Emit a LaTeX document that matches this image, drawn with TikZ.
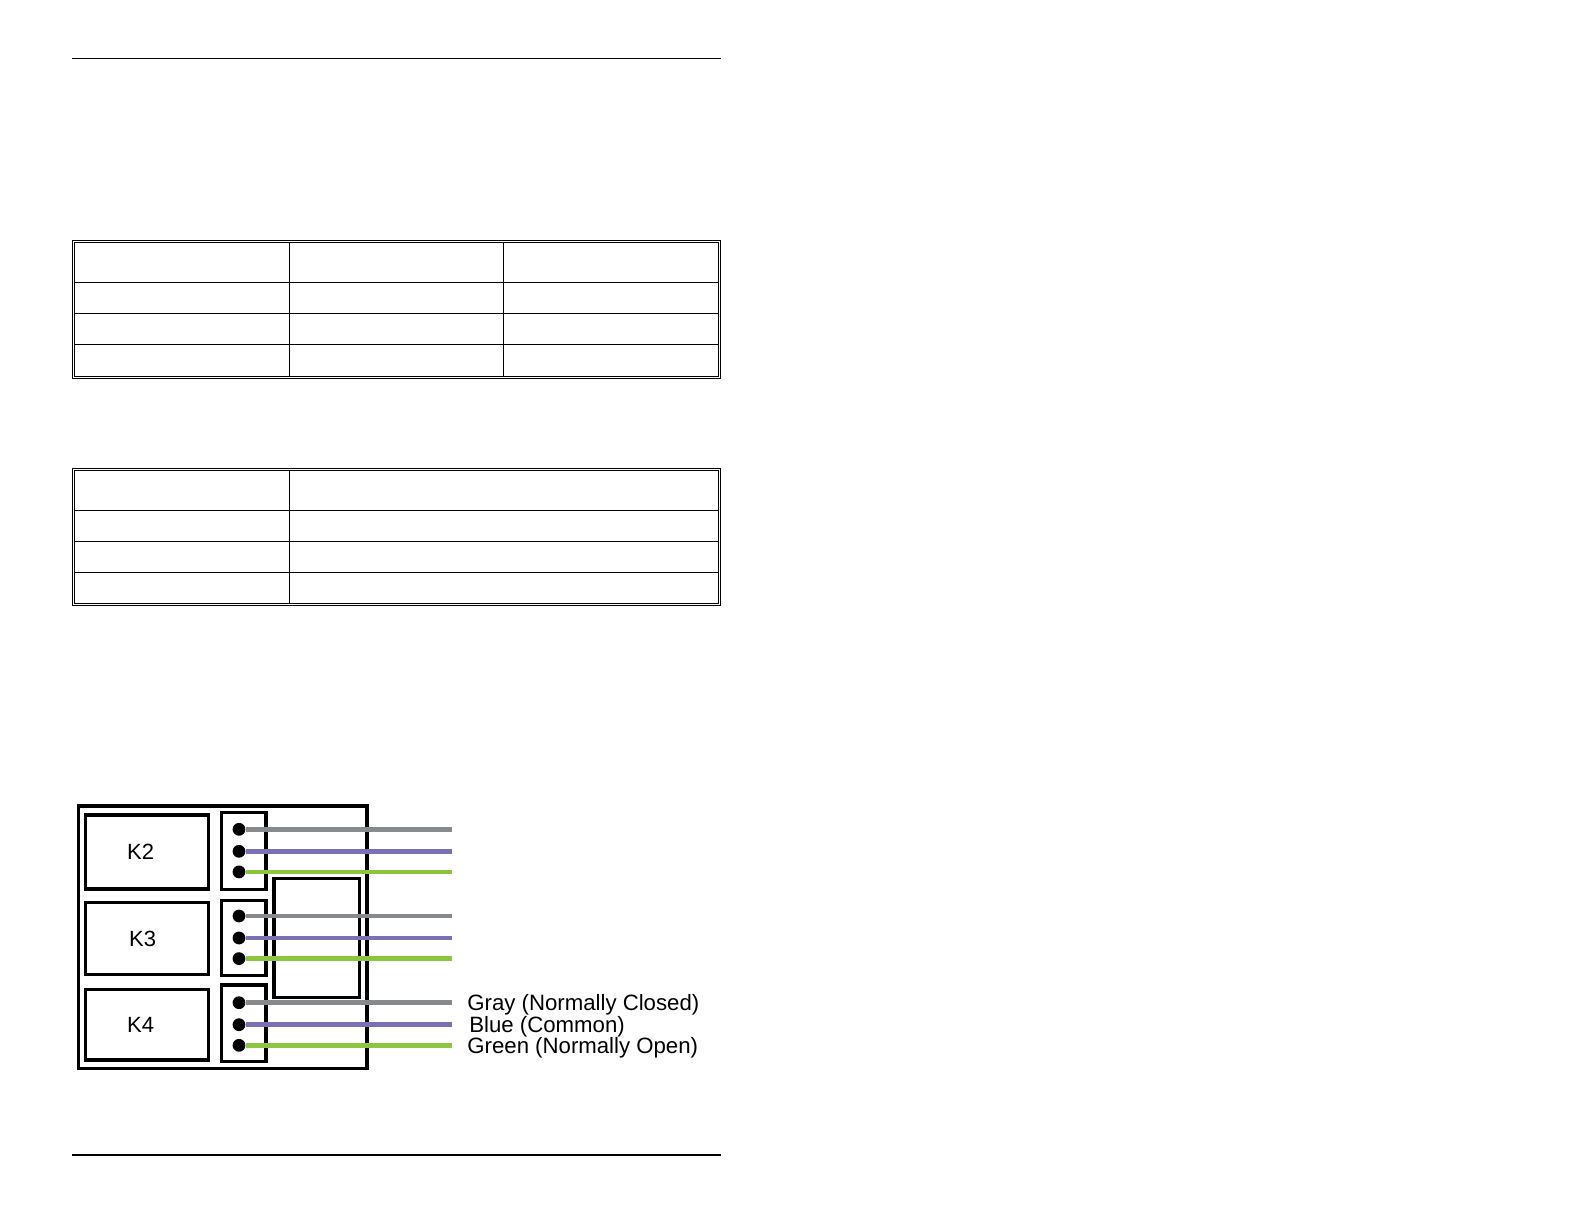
\documentclass[tikz,border=0pt]{standalone}
\usepackage{fontspec}
\setmainfont{Liberation Sans}
\usepackage{xcolor}
\usepackage{tikz}
\usetikzlibrary{positioning}
\definecolor{wiregray}{HTML}{868A8C}
\definecolor{wireblue}{HTML}{7B70B6}
\definecolor{wiregreen}{HTML}{8CC63F}
\tikzset{relay-box/.style={draw,line width=1.7pt,minimum width=61.5pt,inner sep=0pt}}
\tikzset{term-box/.style={draw,line width=1.6pt,minimum width=22.2pt,inner sep=0pt}}
\tikzset{pin-dot/.style={circle,fill=black,inner sep=0pt,minimum size=6.4pt}}
\tikzset{wire/.style={line width=2.4pt}}
\tikzset{table-line/.style={line width=0.6pt}}
\tikzset{rule-line/.style={line width=0.6pt}}
\tikzset{relay-label/.style={font=\fontsize{11}{13}\selectfont}}
\tikzset{legend-text/.style={font=\fontsize{11.1}{13}\selectfont,inner sep=0pt,yshift=-1pt}}

\begin{document}
\begin{tikzpicture}[x=0.5pt,y=-0.5pt]
    \useasboundingbox (0,0) rectangle (1584,1224);

    % page rules
    \draw[rule-line] (72,58.3) -- (720.5,58.3);
    \draw[rule-line] (72,1155) -- (720.5,1155);

    % first table
    \draw[table-line] (72.3,240.3) rectangle (720.7,378.3);
    \draw[table-line] (74.3,242.3) rectangle (718.7,376.3);
    \foreach \y in {282.3,313.3,344.3}
        \draw[table-line] (74.3,\y) -- (718.7,\y);
    \foreach \x in {289.3,503.3}
        \draw[table-line] (\x,242.3) -- (\x,376.3);

    % second table
    \draw[table-line] (72.3,468.3) rectangle (720.7,605.3);
    \draw[table-line] (74.3,470.3) rectangle (718.7,603.3);
    \foreach \y in {510.3,541.3,572.3}
        \draw[table-line] (74.3,\y) -- (718.7,\y);
    \draw[table-line] (289.3,470.3) -- (289.3,603.3);

    % relay board
    \draw[line width=1.8pt] (78.3,806) rectangle (366.7,1068.3);

    \node[relay-box, minimum height=37pt] (k2) at (146.7,852) {};
    \node[relay-box, minimum height=35.8pt] (k3) at (146.7,938.5) {};
    \node[relay-box, minimum height=35.4pt] (k4) at (146.7,1024.7) {};
    \node[relay-label, xshift=-3pt] (k2-label) at (k2.center) {K2};
    \node[relay-label, xshift=-2pt] (k3-label) at (k3.center) {K3};
    \node[relay-label, xshift=-3pt] (k4-label) at (k4.center) {K4};

    \node[term-box, minimum height=38.3pt] (t2) at (243.8,851) {};
    \node[term-box, minimum height=37.2pt] (t3) at (243.8,937.9) {};
    \node[term-box, minimum height=38.3pt] (t4) at (243.8,1023.3) {};
    \node[draw, line width=1.7pt, minimum width=42.7pt, minimum height=59.3pt, inner sep=0pt] (mid) at (316.7,938) {};

    % pins and wires
    \foreach \k/\y in {2/829.3,3/916,4/1002.7} {
        \node[pin-dot] (nc\k) at (239,\y) {};
        \node[pin-dot] (com\k) at (239,\y+22) {};
        \node[pin-dot] (no\k) at (239,\y+42.6) {};
        \coordinate (nc\k-end) at (452,\y);
        \coordinate (com\k-end) at (452,\y+22);
        \coordinate (no\k-end) at (452,\y+42.6);
        \draw[wire, wiregray] (nc\k) -- (nc\k-end);
        \draw[wire, wireblue] (com\k) -- (com\k-end);
        \draw[wire, wiregreen] (no\k) -- (no\k-end);
    }

    \node[legend-text, right=7.5pt of nc4-end] (nc-label) {Gray (Normally Closed)};
    \node[legend-text, right=8.5pt of com4-end] (com-label) {Blue (Common)};
    \node[legend-text, right=7.5pt of no4-end] (no-label) {Green (Normally Open)};
\end{tikzpicture}
\end{document}
